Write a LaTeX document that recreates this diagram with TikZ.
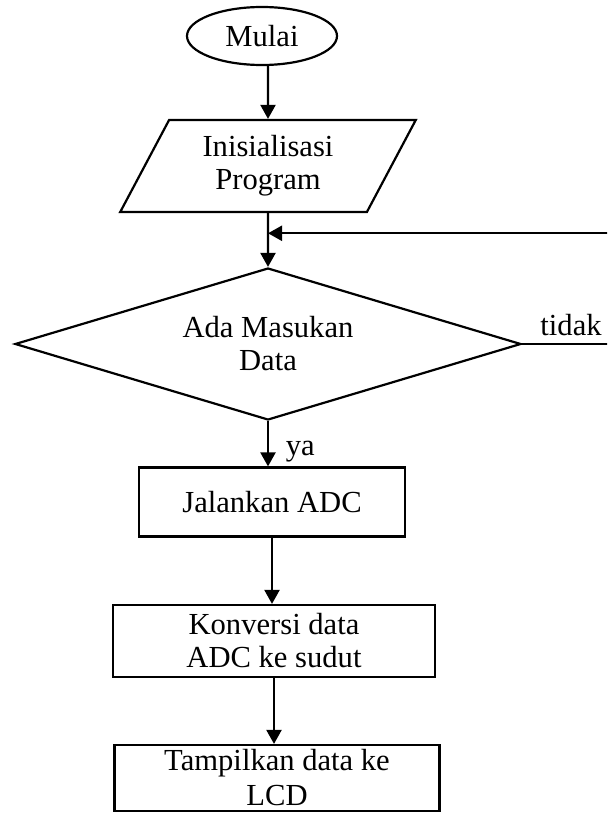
\documentclass[tikz,border=0pt]{standalone}
\usepackage{fontspec}
\setmainfont{Liberation Serif}
\usetikzlibrary{shapes.geometric,arrows.meta,calc}

\begin{document}
\begin{tikzpicture}[x=0.5pt, y=-0.5pt, line width=1.1pt,
  font=\fontsize{15.3}{16.5}\selectfont,
  flow/.style={-{Triangle[length=7pt,width=7.5pt]}},
  terminal/.style={draw, ellipse, inner sep=0pt, minimum width=75pt, minimum height=29pt},
  io/.style={draw, trapezium, trapezium left angle=62, trapezium right angle=118,
    inner sep=0pt, minimum width=136pt, minimum height=46pt, align=center},
  decision/.style={draw, diamond, aspect=3.33, inner sep=0pt,
    minimum width=253pt, minimum height=76pt, align=center},
  process/.style={draw, rectangle, inner sep=0pt, align=center}]
  \useasboundingbox (0,0) rectangle (607,813);
  \clip (0,0) rectangle (607,813);

  \node[terminal] (mulai) at (262,36) {Mulai};
  \node[io] (init) at (268,166) {Inisialisasi\\Program};
  \node[decision] (cek) at (268,344) {Ada Masukan\\Data};
  \node[process, minimum width=133pt, minimum height=34.5pt] (adc) at (272,502) {Jalankan ADC};
  \node[process, minimum width=161pt, minimum height=36pt] (konv) at (274,641) {Konversi data\\ADC ke sudut};
  \node[process, minimum width=162.5pt, minimum height=33pt] (lcd) at (277,778) {Tampilkan data ke\\[1pt]LCD};

  \coordinate (gabung) at ($(init.south)!0.375!(cek.north)$);
  \coordinate (balik) at (620,344);

  \draw[flow] (mulai.south -| init) -- (init.north);
  \draw[flow] (init.south) -- (cek.north);
  \draw[flow] (cek.south) -- node[right, pos=0.68, xshift=5pt] {ya} (cek.south |- adc.north);
  \draw[flow] (adc.south) -- (adc.south |- konv.north);
  \draw[flow] (konv.south) -- (konv.south |- lcd.north);

  % kembali ke cek masukan
  \draw[flow] (cek.east) -- node[above, pos=0.5] {tidak} (balik) |- (gabung);
\end{tikzpicture}
\end{document}
